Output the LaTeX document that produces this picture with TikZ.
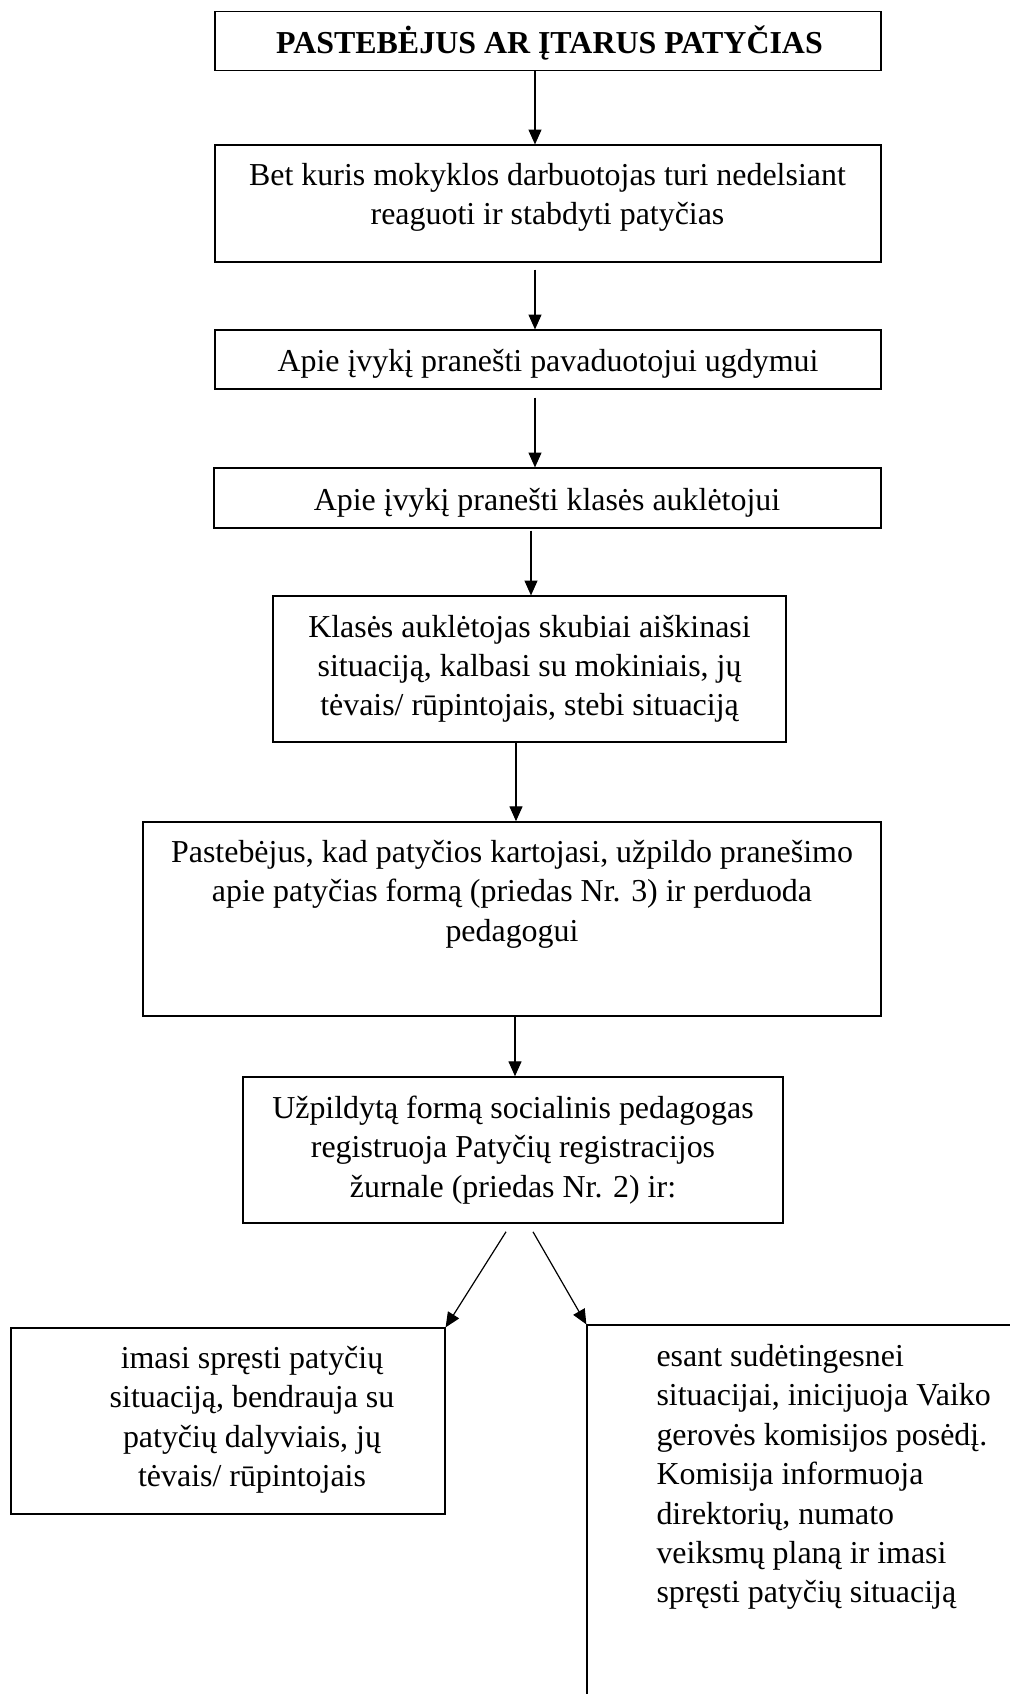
\documentclass[tikz,border=0pt]{standalone}
\usepackage{fontspec}
\setmainfont{Liberation Serif}
\usetikzlibrary{arrows.meta,fit,calc}
\tikzset{
  box/.style={draw, line width=0.45pt, inner sep=0pt},
  thickbox/.style={draw, line width=0.6pt, inner sep=0pt},
  txt/.style={inner sep=0pt, align=center, anchor=north, font=\fontsize{12}{14.8}\selectfont},
  ltxt/.style={inner sep=0pt, align=left, anchor=north west, font=\fontsize{12}{14.8}\selectfont},
  arr/.style={line width=0.45pt, -{Triangle[length=5.6pt,width=4.9pt]}}
}
\begin{document}
\begin{tikzpicture}[x=0.3759pt, y=-0.3759pt]
\useasboundingbox (0,0) rectangle (1010,1694);
\clip (0,0) rectangle (1010,1694);
\fill[white] (0,0) rectangle (1010,1694);
% boxes
\node[box, fit={(215,11.7) (881,70.7)}] (b1) {};
\node[box, fit={(215,145) (881,262)}] (b2) {};
\node[box, fit={(215,330) (881,389)}] (b3) {};
\node[box, fit={(214,468) (881,528)}] (b4) {};
\node[box, fit={(273,596) (786,742)}] (b5) {};
\node[thickbox, fit={(143,822) (881,1016)}] (b6) {};
\node[thickbox, fit={(243,1077) (783,1223)}] (b7) {};
\node[box, fit={(11,1328) (445,1514)}] (lb) {};
\node[box, fit={(587,1325) (1060,1740)}] (rb) {};
% texts (north = first baseline - 27.56)
\node[txt, font=\fontsize{12}{14.8}\selectfont\bfseries] (t1) at (549.5,25.4) {\strut PASTEBĖJUS AR ĮTARUS PATYČIAS};
\node[txt] (t2) at (547.5,157.4) {\strut Bet kuris mokyklos darbuotojas turi nedelsiant\\reaguoti ir stabdyti patyčias};
\node[txt] (t3) at (548,343.1) {\strut Apie įvykį pranešti pavaduotojui ugdymui};
\node[txt] (t4) at (547,482.4) {\strut Apie įvykį pranešti klasės auklėtojui};
\node[txt] (t5) at (529.5,609.1) {\strut Klasės auklėtojas skubiai aiškinasi\\situaciją, kalbasi su mokiniais, jų\\tėvais/ rūpintojais, stebi situaciją};
\node[txt] (t6) at (512,834.4) {\strut Pastebėjus, kad patyčios kartojasi, užpildo pranešimo\\apie patyčias formą (priedas Nr. 3) ir perduoda\\pedagogui};
\node[txt] (t7) at (513,1090.4) {\strut Užpildytą formą socialinis pedagogas\\registruoja Patyčių registracijos\\žurnale (priedas Nr. 2) ir:};
\node[txt] (t8) at (252,1340.4) {\strut imasi spręsti patyčių\\situaciją, bendrauja su\\patyčių dalyviais, jų\\tėvais/ rūpintojais};
\node[ltxt] (t9) at (656,1338.4) {\strut esant sudėtingesnei\\situacijai, inicijuoja Vaiko\\gerovės komisijos posėdį.\\Komisija informuoja\\direktorių, numato\\veiksmų planą ir imasi\\spręsti patyčių situaciją};
% arrow columns
\coordinate (ax1) at (535,0);
\coordinate (ax4) at (531,0);
\coordinate (ax5) at (516,0);
\coordinate (ax6) at (515,0);
\draw[arr] (b1.south -| ax1) -- (b2.north -| ax1);
\draw[arr] ($(b2.south -| ax1)+(0,7)$) -- (b3.north -| ax1);
\draw[arr] ($(b3.south -| ax1)+(0,8)$) -- (b4.north -| ax1);
\draw[arr] ($(b4.south -| ax4)+(0,2)$) -- (b5.north -| ax4);
\draw[arr] (b5.south -| ax5) -- (b6.north -| ax5);
\draw[arr] (b6.south -| ax6) -- (b7.north -| ax6);
\draw[arr] ($(b7.south)+(-7,8)$) -- (lb.north east);
\draw[arr] ($(b7.south)+(20,8)$) -- (rb.north west);
\end{tikzpicture}
\end{document}
